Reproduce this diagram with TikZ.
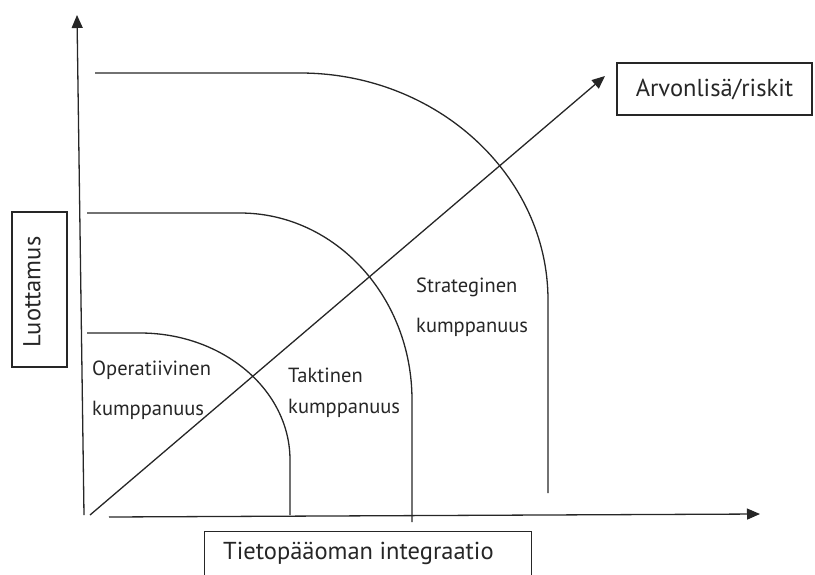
\documentclass[tikz,border=0pt]{standalone}
\usepackage{fontspec}
\setmainfont{PT Sans}
\usetikzlibrary{arrows.meta}
\begin{document}
\begin{tikzpicture}[x=1pt,y=-1pt,
  ln/.style={line width=1.3pt,black!85},
  ax/.style={ln,-{Triangle[length=13pt,width=11pt]}},
  lbl/.style={inner sep=0pt,anchor=base west,font=\fontsize{20.5}{24}\selectfont,text=black!85},
  bigfont/.style={font=\fontsize{24.5}{28}\selectfont,text=black!85},
  boxed/.style={draw=black!85,line width=1.2pt,inner sep=0pt,bigfont}]
\useasboundingbox (0,0) rectangle (815,574);
\begin{scope}
\clip (0,0) rectangle (815,574);
% axes
\coordinate (vb) at (84,515);
\coordinate (vt) at (77,15);
\coordinate (hl) at (109,517);
\coordinate (hr) at (760,514);
\coordinate (db) at (90,515);
\coordinate (dt) at (605,76);
\draw[ax] (vb) -- (vt);
\draw[ax] (hl) -- (hr);
\draw[ax] (db) -- (dt);
% outer curve (Strateginen)
\coordinate (o1) at (95,73);
\coordinate (o2) at (300,73);
\coordinate (o3) at (548,300);
\coordinate (o4) at (548,493);
\draw[ln] (o1) -- (o2) .. controls (437,73) and (548,175.6) .. (o3) -- (o4);
% middle curve (Taktinen)
\coordinate (m1) at (87,213);
\coordinate (m2) at (240,213);
\coordinate (m3) at (412,400);
\coordinate (m4) at (412,522);
\draw[ln] (m1) -- (m2) .. controls (335,213) and (412,296.7) .. (m3) -- (m4);
% inner curve (Operatiivinen)
\coordinate (i1) at (87,333);
\coordinate (i2) at (140,333);
\coordinate (i3) at (290,460);
\coordinate (i4) at (290,515);
\draw[ln] (i1) -- (i2) .. controls (222.8,333) and (290,389.9) .. (i3) -- (i4);
% labels
\node[lbl] (op1) at (92,375) {Operatiivinen};
\node[lbl] (op2) at (92,415) {kumppanuus};
\node[lbl] (ta1) at (288,382) {Taktinen};
\node[lbl] (ta2) at (288,413) {kumppanuus};
\node[lbl] (st1) at (416,292) {Strateginen};
\node[lbl] (st2) at (416,332) {kumppanuus};
% boxes
\node[boxed,minimum width=195pt,minimum height=52pt] (arv) at (714.5,89) {Arvonlisä/riskit};
\node[boxed,minimum width=55pt,minimum height=155pt] (luo) at (39.5,289.5) {};
\node[inner sep=0pt,rotate=90,bigfont] (luot) at (32,292) {Luottamus};
\node[boxed,minimum width=327pt,minimum height=80pt,anchor=north west] (tie) at (204,531) {};
\node[lbl,bigfont] (tiet) at (223,559) {Tietopääoman integraatio};
\end{scope}
\end{tikzpicture}
\end{document}
